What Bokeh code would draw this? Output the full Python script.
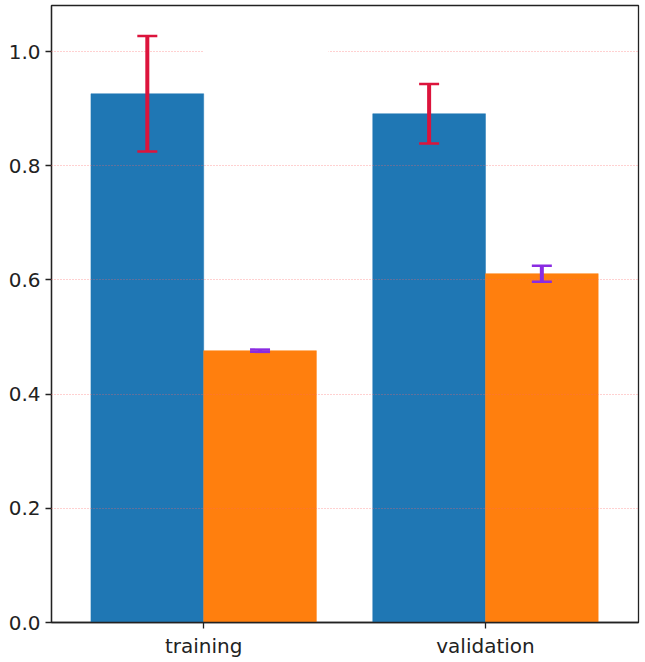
from bokeh.plotting import figure
from bokeh.models import (ColumnDataSource, Range1d, FixedTicker, NumeralTickFormatter,
                          Whisker, TeeHead, BoxAnnotation)
from bokeh.transform import dodge
from bokeh.embed import file_html
from bokeh.resources import INLINE

categories = ["training", "validation"]
cat_pos = [0, 1]
series_a = [0.926, 0.891]
series_a_err = [0.101, 0.052]
series_b = [0.476, 0.611]
series_b_err = [0.002, 0.014]
y_ticks = [0.0, 0.2, 0.4, 0.6, 0.8, 1.0]

BAR_W = 0.4
OFF = 0.2

src = ColumnDataSource(dict(
    x=cat_pos,
    a=series_a,
    a_lo=[v - e for v, e in zip(series_a, series_a_err)],
    a_hi=[v + e for v, e in zip(series_a, series_a_err)],
    xa=[x - OFF for x in cat_pos],
    b=series_b,
    b_lo=[v - e for v, e in zip(series_b, series_b_err)],
    b_hi=[v + e for v, e in zip(series_b, series_b_err)],
    xb=[x + OFF for x in cat_pos],
))

p = figure(width=645, height=662, output_backend="svg", toolbar_location=None,
           x_range=Range1d(-0.54, 1.543), y_range=Range1d(0, 1.0806),
           min_border_left=51, min_border_right=7, min_border_top=5, min_border_bottom=40)
p.background_fill_color = "white"
p.border_fill_color = "white"
p.outline_line_color = "#222222"
p.outline_line_width = 1.3
p.outline_line_alpha = 1.0

p.vbar(x=dodge("x", -OFF), top="a", width=BAR_W, bottom=0, source=src,
       fill_color="#1f77b4", line_color="#1f77b4", line_width=0.5)
p.vbar(x=dodge("x", OFF), top="b", width=BAR_W, bottom=0, source=src,
       fill_color="#ff7f0e", line_color="#ff7f0e", line_width=0.5)

p.xgrid.visible = False
p.ygrid.ticker = FixedTicker(ticks=y_ticks[1:])
p.ygrid.grid_line_color = "#ff6666"
p.ygrid.grid_line_alpha = 0.6
p.ygrid.grid_line_dash = "1 2"
p.ygrid.grid_line_width = 1
p.ygrid.level = "overlay"

gap = BoxAnnotation(left=0.0, right=0.443, bottom=0.994, top=1.006,
                    fill_color="white", fill_alpha=1.0, line_color=None, level="overlay")
p.add_layout(gap)

wa = Whisker(base="xa", lower="a_lo", upper="a_hi", source=src, dimension="height",
             line_color="#dc143c", line_width=4, level="overlay",
             upper_head=TeeHead(size=20, line_color="#dc143c", line_width=2.5),
             lower_head=TeeHead(size=20, line_color="#dc143c", line_width=2.5))
wb = Whisker(base="xb", lower="b_lo", upper="b_hi", source=src, dimension="height",
             line_color="#8a2be2", line_width=4, level="overlay",
             upper_head=TeeHead(size=20, line_color="#8a2be2", line_width=2.5),
             lower_head=TeeHead(size=20, line_color="#8a2be2", line_width=2.5))
p.add_layout(wa)
p.add_layout(wb)

p.xaxis.ticker = FixedTicker(ticks=cat_pos)
p.xaxis.major_label_overrides = {c: n for c, n in zip(cat_pos, categories)}
p.yaxis.ticker = FixedTicker(ticks=y_ticks)
p.yaxis.formatter = NumeralTickFormatter(format="0.0")

for ax in (p.xaxis[0], p.yaxis[0]):
    ax.axis_line_color = "#222222"
    ax.axis_line_width = 1.3
    ax.major_tick_line_color = "#222222"
    ax.major_tick_line_width = 1.3
    ax.major_tick_out = 6
    ax.major_tick_in = 0
    ax.minor_tick_line_color = None
    ax.major_label_text_font = "DejaVu Sans"
    ax.major_label_text_font_size = "20px"
    ax.major_label_text_color = "#222222"
    ax.major_label_standoff = 5

open("out.html", "w").write(file_html(p, INLINE))
